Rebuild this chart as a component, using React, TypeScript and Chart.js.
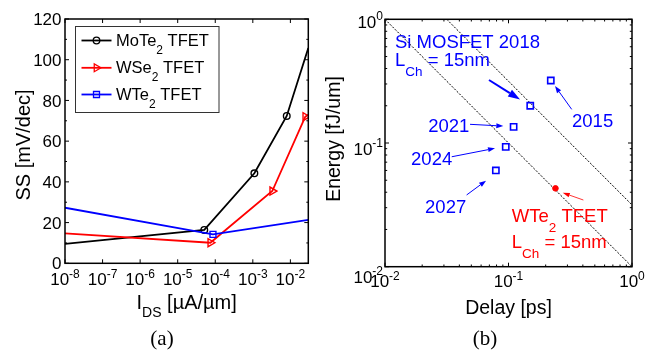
import React, { useEffect, useRef } from 'react';
import { Chart, registerables } from 'chart.js';
Chart.register(...registerables);

// ---------- Panel (a) data ----------
const ssTicks = [0, 20, 40, 60, 80, 100, 120];
const ssMinorTicks = [10, 30, 50, 70, 90, 110];
const idsDecades = [-8, -7, -6, -5, -4, -3, -2];

const moTe2Ids = [1e-8, 5.1e-5, 1.1e-3, 8.0e-3, 3.0e-2];
const moTe2SS = [9.5, 16.4, 44.2, 72.4, 105.8];
const moTe2Marked = [false, true, true, true, false];

const wSe2Ids = [1e-8, 7.4e-5, 3.3e-3, 2.5e-2, 3.0e-2];
const wSe2SS = [14.7, 10.1, 35.5, 72.0, 73.0];
const wSe2Marked = [false, true, true, true, false];

const wTe2Ids = [1e-8, 8.7e-5, 3.0e-2];
const wTe2SS = [27.3, 14.2, 21.3];
const wTe2Marked = [false, true, false];

const legendNames = ['MoTe_{2} TFET', 'WSe_{2} TFET', 'WTe_{2} TFET'];

// ---------- Panel (b) data ----------
const delayDecades = [-2, -1, 0];
const energyDecades = [-2, -1, 0];
const mosfetYears = ['2015', '2018', '2021', '2024', '2027'];
const mosfetDelay = [0.22, 0.15, 0.11, 0.095, 0.079];
const mosfetEnergy = [0.32, 0.2, 0.135, 0.093, 0.06];
const wTe2Delay = [0.24];
const wTe2Energy = [0.043];
const guideLowDelay = [0.01, 1];
const guideLowEnergy = [1, 0.01];
const guideHighDelay = [0.0316, 1];
const guideHighEnergy = [1, 0.0316];

const BLUE = '#0000ff';
const RED = '#ff0000';
const BLACK = '#000000';
const FONT = '"Liberation Sans", Arial, Helvetica, sans-serif';
const SERIF = '"Liberation Serif", "Times New Roman", serif';

// annotations for panel (b), anchored in data coordinates (left, baseline)
const annotationsB = [
  { text: 'Si MOSFET 2018', at: [0.01205, 0.583], color: BLUE },
  { text: 'L_{Ch} = 15nm', at: [0.01205, 0.419], color: BLUE },
  { text: mosfetYears[0], at: [0.327, 0.1355], color: BLUE },
  { text: mosfetYears[2], at: [0.0224, 0.123], color: BLUE },
  { text: mosfetYears[3], at: [0.01626, 0.0664], color: BLUE },
  { text: mosfetYears[4], at: [0.0211, 0.027], color: BLUE },
  { text: 'WTe_{2} TFET', at: [0.1064, 0.0231], color: RED },
  { text: 'L_{Ch} = 15nm', at: [0.1064, 0.0141], color: RED },
];

const arrowsB = [
  { from: [0.0695, 0.323], to: [0.124, 0.225], color: BLUE, lw: 2, head: 12, headW: 8 },
  { from: [0.325, 0.187], to: [0.238, 0.289], color: BLUE, lw: 1, head: 7, headW: 5 },
  { from: [0.0488, 0.1416], to: [0.0908, 0.137], color: BLUE, lw: 1, head: 7, headW: 5 },
  { from: [0.0347, 0.0774], to: [0.0778, 0.0906], color: BLUE, lw: 1, head: 7, headW: 5 },
  { from: [0.0458, 0.038], to: [0.0658, 0.0496], color: BLUE, lw: 1, head: 7, headW: 5 },
  { from: [0.404, 0.0346], to: [0.275, 0.0396], color: RED, lw: 0.8, head: 7, headW: 4.5 },
];

// ---------- helpers ----------
type Run = { text: string; kind: 'n' | 'sub' | 'sup' };
function parseRich(s: string): Run[] {
  const runs: Run[] = [];
  const re = /([_^])\{([^}]*)\}/g;
  let last = 0;
  let m: RegExpExecArray | null;
  while ((m = re.exec(s))) {
    if (m.index > last) runs.push({ text: s.slice(last, m.index), kind: 'n' });
    runs.push({ text: m[2], kind: m[1] === '_' ? 'sub' : 'sup' });
    last = re.lastIndex;
  }
  if (last < s.length) runs.push({ text: s.slice(last), kind: 'n' });
  return runs;
}

type RichOpt = {
  size: number; small: number; subDy: number; supDy: number;
  align: 'left' | 'center' | 'right'; color: string; family?: string;
};
function drawRich(ctx: CanvasRenderingContext2D, s: string, x: number, y: number, o: RichOpt) {
  const fam = o.family || FONT;
  const runs = parseRich(s);
  const widths = runs.map((r) => {
    ctx.font = `${r.kind === 'n' ? o.size : o.small}px ${fam}`;
    return ctx.measureText(r.text).width;
  });
  const total = widths.reduce((a, b) => a + b, 0);
  let cx = o.align === 'left' ? x : o.align === 'center' ? x - total / 2 : x - total;
  ctx.fillStyle = o.color;
  ctx.textAlign = 'left';
  ctx.textBaseline = 'alphabetic';
  runs.forEach((r, i) => {
    ctx.font = `${r.kind === 'n' ? o.size : o.small}px ${fam}`;
    const dy = r.kind === 'sub' ? o.subDy : r.kind === 'sup' ? -o.supDy : 0;
    ctx.fillText(r.text, cx, y + dy);
    cx += widths[i];
  });
}

function drawArrow(ctx: CanvasRenderingContext2D, x1: number, y1: number, x2: number, y2: number,
  color: string, lw: number, head: number, headW: number) {
  const ang = Math.atan2(y2 - y1, x2 - x1);
  const bx = x2 - Math.cos(ang) * head;
  const by = y2 - Math.sin(ang) * head;
  ctx.save();
  ctx.strokeStyle = color;
  ctx.fillStyle = color;
  ctx.lineWidth = lw;
  ctx.beginPath();
  ctx.moveTo(x1, y1);
  ctx.lineTo(bx, by);
  ctx.stroke();
  ctx.beginPath();
  ctx.moveTo(x2, y2);
  ctx.lineTo(bx + Math.sin(ang) * headW / 2, by - Math.cos(ang) * headW / 2);
  ctx.lineTo(bx - Math.sin(ang) * headW / 2, by + Math.cos(ang) * headW / 2);
  ctx.closePath();
  ctx.fill();
  ctx.restore();
}

function drawBox(ctx: CanvasRenderingContext2D, ca: any) {
  ctx.save();
  ctx.strokeStyle = BLACK;
  ctx.lineWidth = 1.5;
  ctx.strokeRect(ca.left, ca.top, ca.right - ca.left, ca.bottom - ca.top);
  ctx.restore();
}

function tickX(ctx: CanvasRenderingContext2D, ca: any, px: number, len: number) {
  ctx.beginPath();
  ctx.moveTo(px, ca.bottom); ctx.lineTo(px, ca.bottom - len);
  ctx.moveTo(px, ca.top); ctx.lineTo(px, ca.top + len);
  ctx.stroke();
}
function tickY(ctx: CanvasRenderingContext2D, ca: any, py: number, len: number) {
  ctx.beginPath();
  ctx.moveTo(ca.left, py); ctx.lineTo(ca.left + len, py);
  ctx.moveTo(ca.right, py); ctx.lineTo(ca.right - len, py);
  ctx.stroke();
}

const ptsOf = (xs: number[], ys: number[]) => xs.map((v, i) => ({ x: v, y: ys[i] }));

// ---------- panel (a) plugin ----------
const panelAPlugin = {
  id: 'panelA',
  afterDraw(chart: any) {
    const ctx: CanvasRenderingContext2D = chart.ctx;
    const ca = chart.chartArea;
    const xs = chart.scales.x;
    const ys = chart.scales.y;
    ctx.save();
    drawBox(ctx, ca);
    ctx.strokeStyle = BLACK;
    ctx.lineWidth = 1;
    ssTicks.forEach((v) => tickY(ctx, ca, ys.getPixelForValue(v), 4));
    ssMinorTicks.forEach((v) => tickY(ctx, ca, ys.getPixelForValue(v), 2));
    idsDecades.forEach((d) => tickX(ctx, ca, xs.getPixelForValue(Math.pow(10, d)), 4));

    // y tick labels
    ctx.fillStyle = BLACK;
    ctx.font = `17px ${FONT}`;
    ctx.textAlign = 'right';
    ctx.textBaseline = 'middle';
    ssTicks.forEach((v) => ctx.fillText(String(v), ca.left - 3.5, ys.getPixelForValue(v) + 1.5));
    // x tick labels
    idsDecades.forEach((d) => {
      drawRich(ctx, `10^{${d}}`, xs.getPixelForValue(Math.pow(10, d)), ca.bottom + 22,
        { size: 17, small: 12, subDy: 0, supDy: 7, align: 'center', color: BLACK });
    });
    // axis titles
    drawRich(ctx, 'I_{DS} [µA/µm]', (ca.left + ca.right) / 2, 308.5,
      { size: 20, small: 14, subDy: 8, supDy: 0, align: 'center', color: BLACK });
    ctx.save();
    ctx.translate(30, 145);
    ctx.rotate(-Math.PI / 2);
    drawRich(ctx, 'SS [mV/dec]', 0, 0, { size: 20, small: 14, subDy: 0, supDy: 0, align: 'center', color: BLACK });
    ctx.restore();
    // caption
    drawRich(ctx, '(a)', 162, 345, { size: 21, small: 14, subDy: 0, supDy: 0, align: 'center', color: BLACK, family: SERIF });

    // legend
    const lx = ca.left + 10.5;
    const ly = ca.top + 7.5;
    ctx.fillStyle = '#ffffff';
    ctx.fillRect(lx, ly, 143.5, 86);
    ctx.strokeStyle = '#333333';
    ctx.lineWidth = 1;
    ctx.strokeRect(lx, ly, 143.5, 86);
    const colors = [BLACK, RED, BLUE];
    const rows = [21.5, 48.8, 75.5];
    rows.forEach((ry, i) => {
      const yy = ca.top + ry;
      ctx.strokeStyle = colors[i];
      ctx.lineWidth = 1.8;
      ctx.beginPath();
      ctx.moveTo(ca.left + 16.5, yy);
      ctx.lineTo(ca.left + 46.5, yy);
      ctx.stroke();
      const mx = ca.left + 31.5;
      ctx.lineWidth = 1.3;
      ctx.beginPath();
      if (i === 0) {
        ctx.arc(mx, yy, 3.3, 0, Math.PI * 2);
      } else if (i === 1) {
        ctx.moveTo(mx + 4.5, yy);
        ctx.lineTo(mx - 2.25, yy - 3.9);
        ctx.lineTo(mx - 2.25, yy + 3.9);
        ctx.closePath();
      } else {
        ctx.rect(mx - 3, yy - 3, 6, 6);
      }
      ctx.stroke();
      drawRich(ctx, legendNames[i], ca.left + 51, yy + 5.5,
        { size: 16.5, small: 12, subDy: 7.5, supDy: 0, align: 'left', color: BLACK });
    });
    ctx.restore();
  },
};

// ---------- panel (b) plugin ----------
const yLabelBaseline = [16, 12, 9];
const B_LEFT = 320; // page offset of panel (b) canvas
const panelBPlugin = {
  id: 'panelB',
  afterDraw(chart: any) {
    const ctx: CanvasRenderingContext2D = chart.ctx;
    const ca = chart.chartArea;
    const xs = chart.scales.x;
    const ys = chart.scales.y;
    ctx.save();
    // arrows
    arrowsB.forEach((a) => {
      drawArrow(ctx, xs.getPixelForValue(a.from[0]), ys.getPixelForValue(a.from[1]),
        xs.getPixelForValue(a.to[0]), ys.getPixelForValue(a.to[1]), a.color, a.lw, a.head, a.headW);
    });
    // annotations
    annotationsB.forEach((t) => {
      drawRich(ctx, t.text, xs.getPixelForValue(t.at[0]), ys.getPixelForValue(t.at[1]),
        { size: 18.5, small: 13.5, subDy: 10, supDy: 0, align: 'left', color: t.color });
    });
    drawBox(ctx, ca);
    ctx.strokeStyle = BLACK;
    ctx.lineWidth = 1;
    delayDecades.forEach((d) => {
      tickX(ctx, ca, xs.getPixelForValue(Math.pow(10, d)), 4);
      if (d < 0) for (let m = 2; m <= 9; m++) tickX(ctx, ca, xs.getPixelForValue(m * Math.pow(10, d)), 2.2);
    });
    energyDecades.forEach((d) => {
      tickY(ctx, ca, ys.getPixelForValue(Math.pow(10, d)), 4);
      if (d < 0) for (let m = 2; m <= 9; m++) tickY(ctx, ca, ys.getPixelForValue(m * Math.pow(10, d)), 2.2);
    });
    delayDecades.forEach((d) => {
      drawRich(ctx, `10^{${d}}`, xs.getPixelForValue(Math.pow(10, d)), ca.bottom + 20,
        { size: 17, small: 12, subDy: 0, supDy: 7, align: 'center', color: BLACK });
    });
    energyDecades.forEach((d, i) => {
      drawRich(ctx, `10^{${d}}`, ca.left - 2, ys.getPixelForValue(Math.pow(10, d)) + yLabelBaseline[i],
        { size: 17, small: 12, subDy: 0, supDy: 8, align: 'right', color: BLACK });
    });
    drawRich(ctx, 'Delay [ps]', (ca.left + ca.right) / 2, 314,
      { size: 19.5, small: 14, subDy: 0, supDy: 0, align: 'center', color: BLACK });
    ctx.save();
    ctx.translate(340 - B_LEFT, 139);
    ctx.rotate(-Math.PI / 2);
    drawRich(ctx, 'Energy [fJ/um]', 0, 0, { size: 19.5, small: 14, subDy: 0, supDy: 0, align: 'center', color: BLACK });
    ctx.restore();
    drawRich(ctx, '(b)', 485 - B_LEFT, 345, { size: 21, small: 14, subDy: 0, supDy: 0, align: 'center', color: BLACK, family: SERIF });
    ctx.restore();
  },
};

function configA(): any {
  const mk = (xs: number[], ys: number[], marked: boolean[], color: string, style: string, r: number, rot: number) => ({
    type: 'line',
    data: ptsOf(xs, ys),
    borderColor: color,
    borderWidth: 1.8,
    tension: 0,
    fill: false,
    pointStyle: style,
    pointRotation: rot,
    pointRadius: marked.map((m) => (m ? r : 0)),
    pointBorderColor: color,
    pointBackgroundColor: 'rgba(0,0,0,0)',
    pointBorderWidth: 1.4,
  });
  return {
    type: 'line',
    data: {
      datasets: [
        mk(wTe2Ids, wTe2SS, wTe2Marked, BLUE, 'rect', 4.2, 0),
        mk(wSe2Ids, wSe2SS, wSe2Marked, RED, 'triangle', 4.6, 90),
        mk(moTe2Ids, moTe2SS, moTe2Marked, BLACK, 'circle', 3.3, 0),
      ],
    },
    options: {
      responsive: false,
      animation: false,
      devicePixelRatio: 1,
      layout: { padding: { left: 65, top: 19, right: 320 - 308.3, bottom: 351 - 263.3 } },
      plugins: { legend: { display: false }, tooltip: { enabled: false }, title: { display: false } },
      scales: {
        x: { type: 'logarithmic', min: 1e-8, max: 3e-2, display: false },
        y: { type: 'linear', min: 0, max: 120, display: false },
      },
    },
    plugins: [panelAPlugin],
  };
}

function configB(): any {
  const guide = (xs: number[], ys: number[]) => ({
    type: 'line',
    data: ptsOf(xs, ys),
    borderColor: '#000000',
    borderWidth: 1,
    borderDash: [2, 1.5],
    pointRadius: 0,
    tension: 0,
    fill: false,
  });
  return {
    type: 'line',
    data: {
      datasets: [
        {
          type: 'scatter',
          data: ptsOf(wTe2Delay, wTe2Energy),
          pointStyle: 'circle',
          pointRadius: 2.8,
          pointBackgroundColor: RED,
          pointBorderColor: RED,
          pointBorderWidth: 1,
          showLine: false,
        },
        {
          type: 'scatter',
          data: ptsOf(mosfetDelay, mosfetEnergy),
          pointStyle: 'rect',
          pointRadius: 4.4,
          pointBackgroundColor: 'rgba(0,0,0,0)',
          pointBorderColor: BLUE,
          pointBorderWidth: 1.6,
          showLine: false,
        },
        guide(guideLowDelay, guideLowEnergy),
        guide(guideHighDelay, guideHighEnergy),
      ],
    },
    options: {
      responsive: false,
      animation: false,
      devicePixelRatio: 1,
      layout: { padding: { left: 385 - B_LEFT, top: 19.3, right: 670 - 632, bottom: 351 - 266.7 } },
      plugins: { legend: { display: false }, tooltip: { enabled: false }, title: { display: false } },
      scales: {
        x: { type: 'logarithmic', min: 0.01, max: 1, display: false },
        y: { type: 'logarithmic', min: 0.01, max: 1, display: false },
      },
    },
    plugins: [panelBPlugin],
  };
}

export default function App() {
  const refA = useRef<HTMLCanvasElement>(null);
  const refB = useRef<HTMLCanvasElement>(null);
  useEffect(() => {
    const a = new Chart(refA.current as HTMLCanvasElement, configA());
    const b = new Chart(refB.current as HTMLCanvasElement, configB());
    return () => {
      a.destroy();
      b.destroy();
    };
  }, []);
  return (
    <div style={{ position: 'absolute', left: 0, top: 0, width: 670, height: 351, background: '#ffffff' }}>
      <canvas ref={refA} width={B_LEFT} height={351}
        style={{ position: 'absolute', left: 0, top: 0, width: B_LEFT, height: 351 }} />
      <canvas ref={refB} width={670 - B_LEFT} height={351}
        style={{ position: 'absolute', left: B_LEFT, top: 0, width: 670 - B_LEFT, height: 351 }} />
    </div>
  );
}
